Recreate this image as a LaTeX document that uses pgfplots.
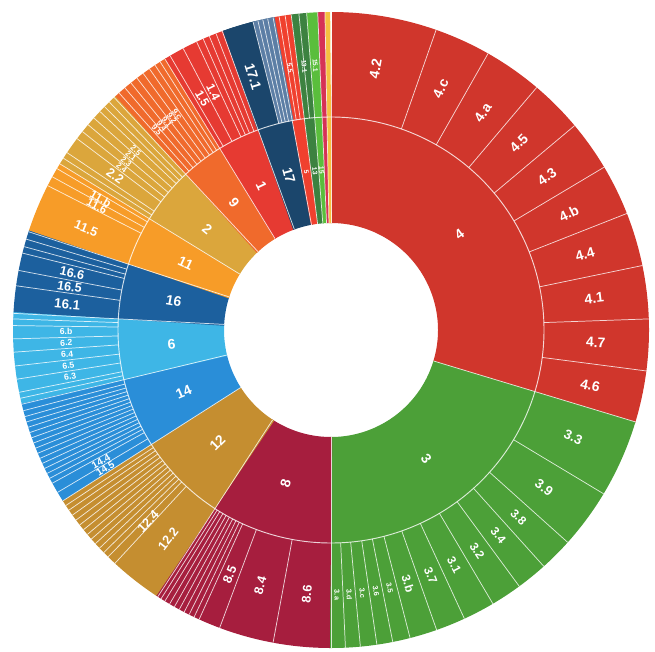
\documentclass[border=0pt]{standalone}
\usepackage{pgfplots}
\pgfplotsset{compat=1.18}
\usepackage{pgfplotstable}
\usepackage{fontspec}
\setmainfont{Liberation Sans}

\definecolor{c1}{RGB}{230,58,50}
\definecolor{c2}{RGB}{219,166,60}
\definecolor{c3}{RGB}{76,160,56}
\definecolor{c4}{RGB}{208,54,44}
\definecolor{c5}{RGB}{240,64,46}
\definecolor{c6}{RGB}{62,182,230}
\definecolor{c7}{RGB}{245,192,64}
\definecolor{c8}{RGB}{166,30,62}
\definecolor{c9}{RGB}{240,106,44}
\definecolor{c10}{RGB}{214,50,86}
\definecolor{c11}{RGB}{247,156,40}
\definecolor{c12}{RGB}{197,142,48}
\definecolor{c13}{RGB}{60,130,64}
\definecolor{c14}{RGB}{42,142,216}
\definecolor{c15}{RGB}{90,190,60}
\definecolor{c16}{RGB}{28,96,158}
\definecolor{c17}{RGB}{27,70,108}
\definecolor{c17s}{RGB}{92,126,165}

% inner ring: goals (angles clockwise from top, degrees), label angle m
\pgfplotstableread{
a b m col lab fs
0 106.8 53.4 c4 4 10.5
106.8 180 143.4 c3 3 10.5
180 213 196.5 c8 8 10.5
213 237.5 225.25 c12 12 10.5
237.5 256.5 247 c14 14 10.5
256.5 273 264.75 c6 6 10.5
273 288 280.5 c16 16 10.5
288 301.5 294.75 c11 11 10.5
301.5 317 309.25 c2 2 10.5
317 328.5 322.75 c9 9 10.5
328.5 340 334.25 c1 1 10.5
340 349.5 344.75 c17 17 10.5
349.5 352.8 351.15 c5 5 5
352.8 355.6 354.2 c13 13 5
355.6 357.6 356.6 c15 15 5
357.6 358.9 358.25 c10 {} 5
358.9 360 359.45 c7 {} 5
}\groups

% outer ring parts of goal 17
\pgfplotstableread{
a b col
340 345.8 c17
345.8 349.5 c17s
}\outercol

% outer ring labels: centre angle, text, size
\pgfplotstableread{
t lab fs
9.65 4.2 10.5
24.45 4.c 10.5
34.95 4.a 10.5
45.15 4.5 10.5
54.6 4.3 10.5
63.85 4.b 10.5
73.4 4.4 10.5
83.15 4.1 10.5
92.7 4.7 10.5
102.1 4.6 10.5
113.9 3.3 10
126.45 3.9 10
134.95 3.8 9
140.85 3.4 9
146.55 3.2 9
152.3 3.1 9
157.9 3.7 9
163.1 3.b 9
167.2 3.5 5.5
170.25 3.6 5.5
173.2 3.c 5.5
176.05 3.d 5.5
178.7 3.a 5.5
185.25 8.6 9.5
195.5 8.4 9.5
202.5 8.5 9.5
217.9 12.2 9.5
223.65 12.4 9.5
238.4 14.5 7.5
240.25 14.4 7.5
259.9 6.3 6.5
262.3 6.5 6.5
264.75 6.4 6.5
267.2 6.2 6.5
269.6 6.b 6.5
275.5 16.1 10
279.4 16.5 9.5
282.4 16.6 9.5
292.5 11.5 9.5
297.9 11.6 8.5
299.65 11.b 8.5
305.45 2.2 9.5
307.8 2.4 6
309.4 2.3 6
311 2.1 6
312.6 2.5 6
318.9 9.5 6
320.3 9.4 6
321.7 9.1 6
323.1 9.2 6
324.5 9.c 6
330.95 1.5 9
333.65 1.4 9
342.9 17.1 10.5
351.1 5.5 5
354.2 13.1 5
356.6 15.1 5
}\outerlabels

% separators: angle, inner radius
\pgfplotstableread{
t r
0 107
106.8 107
180 107
213 107
237.5 107
256.5 107
273 107
288 107
301.5 107
317 107
328.5 107
340 107
349.5 107
352.8 107
355.6 107
357.6 107
358.9 107
19.3 213
29.6 213
40.3 213
50 213
59.2 213
68.5 213
78.3 213
88 213
97.4 213
121 213
131.9 213
138 213
143.7 213
149.4 213
155.2 213
160.6 213
165.6 213
168.8 213
171.7 213
174.7 213
177.4 213
190.5 213
200.5 213
204.5 213
205.5 213
206.5 213
207.5 213
208.5 213
209.5 213
210.5 213
211.5 213
212.3 213
222.8 213
224.5 213
225.6 213
226.7 213
227.8 213
228.9 213
230 213
231.1 213
232.2 213
233.3 213
234.4 213
235.5 213
236.5 213
239.3 213
241.2 213
242.2 213
243.2 213
244.2 213
245.2 213
246.2 213
247.2 213
248.2 213
249.2 213
250.2 213
251.2 213
252.2 213
253.2 213
254.2 213
255.3 213
257.6 213
258.7 213
261.1 213
263.5 213
266 213
268.4 213
270.8 213
272 213
278 213
280.8 213
284 213
285.2 213
286.6 213
297 213
298.8 213
300.5 213
302.7 213
303.9 213
307 213
308.6 213
310.2 213
311.8 213
313.4 213
314.6 213
315.8 213
318.2 213
319.6 213
321 213
322.4 213
323.8 213
325.2 213
326.4 213
327.5 213
329.6 213
332.3 213
335 213
336.3 213
337.5 213
338.8 213
345.8 213
346.7 213
347.6 213
348.5 213
350.6 213
351.7 213
354.2 213
}\seps

\newcommand\drawarcs[3]{% table, mid radius, width (pt)
  \pgfplotstablegetrowsof{#1}\pgfmathtruncatemacro\nlast{\pgfplotsretval-1}%
  \pgfplotsforeachungrouped \i in {0,...,\nlast}{%
    \pgfplotstablegetelem{\i}{a}\of{#1}\let\sa\pgfplotsretval
    \pgfplotstablegetelem{\i}{b}\of{#1}\let\sb\pgfplotsretval
    \pgfplotstablegetelem{\i}{col}\of{#1}\let\scol\pgfplotsretval
    % draw a hair past the end so that the next wedge covers the seam
    \pgfmathsetmacro\se{min(\sb+0.3,360)}%
    \pgfmathtruncatemacro\ns{max(3,ceil((\se-\sa)/0.25)+1)}%
    \edef\tmp{\noexpand\addplot[draw=\scol, line width=#3, line cap=butt, line join=round, domain=\sa:\se, samples=\ns, variable=\noexpand\t, forget plot] ({#2*sin(\noexpand\t)},{#2*cos(\noexpand\t)});}%
    \tmp
  }%
}
\newcommand\drawlabels[3]{% table, angle column, radius
  \pgfplotstablegetrowsof{#1}\pgfmathtruncatemacro\nlast{\pgfplotsretval-1}%
  \pgfplotsforeachungrouped \i in {0,...,\nlast}{%
    \pgfplotstablegetelem{\i}{#2}\of{#1}\let\st\pgfplotsretval
    \pgfplotstablegetelem{\i}{lab}\of{#1}\let\slab\pgfplotsretval
    \pgfplotstablegetelem{\i}{fs}\of{#1}\let\sfs\pgfplotsretval
    \pgfmathsetmacro\rot{ifthenelse(\st<180, 90-\st, 270-\st)}%
    \pgfmathsetmacro\px{#3*sin(\st)}%
    \pgfmathsetmacro\py{#3*cos(\st)}%
    \edef\tmp{\noexpand\node[rotate=\rot, text=white, inner sep=0pt, font=\noexpand\fontsize{\sfs}{\sfs}\noexpand\selectfont\noexpand\bfseries] at (axis cs:\px,\py) {\slab};}%
    \tmp
  }%
}
\newcommand\drawseps[2]{% table, outer radius
  \pgfplotstablegetrowsof{#1}\pgfmathtruncatemacro\nlast{\pgfplotsretval-1}%
  \pgfplotsforeachungrouped \i in {0,...,\nlast}{%
    \pgfplotstablegetelem{\i}{t}\of{#1}\let\st\pgfplotsretval
    \pgfplotstablegetelem{\i}{r}\of{#1}\let\sr\pgfplotsretval
    \pgfmathsetmacro\xa{\sr*sin(\st)}\pgfmathsetmacro\ya{\sr*cos(\st)}%
    \pgfmathsetmacro\xb{#2*sin(\st)}\pgfmathsetmacro\yb{#2*cos(\st)}%
    \edef\tmp{\noexpand\addplot[draw=white, draw opacity=0.8, line width=0.55pt, forget plot] coordinates {(\xa,\ya) (\xb,\yb)};}%
    \tmp
  }%
}

\begin{document}
\begin{tikzpicture}
\begin{axis}[
  x=0.75pt, y=0.75pt,
  xmin=-331, xmax=324, ymin=-321, ymax=330,
  axis line style={draw=none},
  xtick=\empty, ytick=\empty,
  clip=false,
]
% both rings coloured by goal
\drawarcs{\groups}{212.5}{158.25pt}
% outer parts of goal 17
\drawarcs{\outercol}{265.5}{78.75pt}
% ring boundary
\addplot[draw=white, draw opacity=0.8, line width=0.7pt, domain=0:360, samples=361, variable=\t, forget plot] ({213*sin(\t)},{213*cos(\t)});
\drawseps{\seps}{318}
\drawlabels{\groups}{m}{160}
\drawlabels{\outerlabels}{t}{265}
\end{axis}
\end{tikzpicture}
\end{document}
